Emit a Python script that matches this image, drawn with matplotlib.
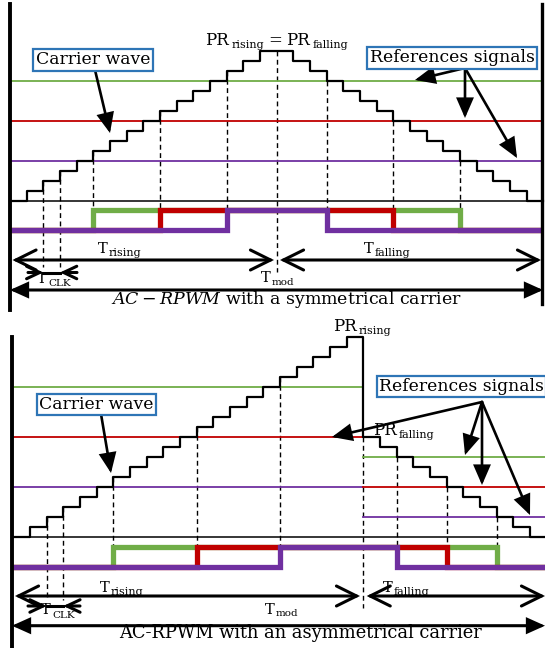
import numpy as np
import matplotlib
matplotlib.use("Agg")
import matplotlib.pyplot as plt
from matplotlib.patches import FancyArrowPatch
from matplotlib.transforms import Affine2D

plt.rcParams["font.family"] = ["DejaVu Serif"]
plt.rcParams["mathtext.fontset"] = "dejavuserif"

GREEN = "#70AD47"
RED = "#C00000"
PURPLE = "#7030A0"
BOX_EDGE = "#2E75B6"

# ---- signal data: carrier level (in clock steps) for every clock period ----
sym_carrier = [0, 1, 2, 3, 4, 5, 6, 7, 8, 9, 10, 11, 12, 13, 14, 15,
               15, 14, 13, 12, 11, 10, 9, 8, 7, 6, 5, 4, 3, 2, 1, 0]
sym_refs = [4, 8, 12]                 # purple, red, green references

asym_carrier = [0, 1, 2, 3, 4, 5, 6, 7, 8, 9, 10, 11, 12, 13, 14, 15,
                16, 17, 18, 19, 20, 10, 9, 8, 7, 6, 5, 4, 3, 2, 1, 0]
asym_refs_rising = [5, 10, 15]        # purple, red, green (rising ramp)
asym_refs_falling = [2, 5, 8]         # purple, red, green (falling ramp)
asym_fall_start = 21                  # first clock period of the falling ramp

clk_periods = [2, 3]                  # clock edges bracketing T_CLK

ref_colors = [PURPLE, RED, GREEN]
pulse_colors = [GREEN, RED, PURPLE]

# ---- layout (pixels) ----
DX, DY = 16.667, 10.0

fig = plt.figure(figsize=(5.45, 6.48), dpi=100)
ax = fig.add_axes([0, 0, 1, 1])
ax.set_xlim(0, 545)
ax.set_ylim(648, 0)
ax.axis("off")
renderer = fig.canvas.get_renderer()


def arrow(p1, p2, style, hl, hw, lw=2.2, ms=10, z=4):
    ax.add_patch(FancyArrowPatch(p1, p2, arrowstyle=f"{style},head_length={hl},head_width={hw}",
                                 mutation_scale=ms, lw=lw, color="black",
                                 shrinkA=0, shrinkB=0, zorder=z, joinstyle="miter"))


def sub_label(x, y, main, sub, fs=10.5, fss=8, ha="center", drop=3.5, gap=1.0):
    """Text with a lowered, smaller subscript; returns the right end."""
    t1 = ax.text(0, y, main, fontsize=fs, ha="left", va="baseline", zorder=6)
    t2 = ax.text(0, y + drop, sub, fontsize=fss, ha="left", va="baseline", zorder=6)
    w1 = t1.get_window_extent(renderer).width
    w2 = t2.get_window_extent(renderer).width
    total = w1 + gap + w2
    left = x - total / 2 if ha == "center" else x
    t1.set_x(left)
    t2.set_x(left + w1 + gap)
    return left + total


def draw_panel(carrier, refs_rise, refs_fall, fall_start, center, g):
    carrier = np.asarray(carrier)
    n = len(carrier)
    car_tf = Affine2D().scale(DX, -DY).translate(g["x0"], g["y0"]) + ax.transData
    pul_tf = (Affine2D().scale(DX, g["p_high"] - g["p_low"])
              .translate(g["x0"], g["p_low"]) + ax.transData)

    def px(i):
        return g["x0"] + i * DX

    def py(level):
        return g["y0"] - level * DY

    # zero line
    ax.plot([g["fl"], g["fr"]], [g["y0"], g["y0"]], color="black", lw=1.1, zorder=2)

    # reference lines
    x_split = px(fall_start) if fall_start is not None else g["fr"]
    for r in range(3):
        ax.plot([g["fl"], x_split], [py(refs_rise[r])] * 2, color=ref_colors[r], lw=1.3, zorder=2)
        if fall_start is not None:
            ax.plot([x_split, g["fr"]], [py(refs_fall[r])] * 2, color=ref_colors[r], lw=1.3, zorder=2)

    # staircase carrier
    xs = np.arange(n + 1)
    ys = np.append(carrier, carrier[-1])
    ax.step(xs, ys, where="post", color="black", lw=1.6, transform=car_tf, zorder=3)

    # comparison pulses (lowest reference first)
    ref_per_period = np.empty((3, n))
    for r in range(3):
        ref_per_period[r] = refs_rise[r]
        if fall_start is not None:
            ref_per_period[r, fall_start:] = refs_fall[r]
    edges = []
    for r in range(3):
        high = (carrier > ref_per_period[r]).astype(float)
        ax.step(xs, np.append(high, high[-1]), where="post", color=pulse_colors[r],
                lw=3.8, transform=pul_tf, zorder=4 + r * 0.1,
                solid_joinstyle="miter", solid_capstyle="butt")
        change = np.nonzero(np.diff(high))[0] + 1
        edges.extend(change.tolist())

    dash = dict(color="black", lw=1.0, ls=(0, (3.5, 2.5)), zorder=1)
    for i in edges:
        ax.plot([px(i), px(i)], [py(carrier[i]), g["p_high"]], **dash)
    for i in clk_periods:
        ax.plot([px(i), px(i)], [py(carrier[i]), g["clk_y"] - 6], **dash)
    ax.plot([px(center), px(center)], [py(carrier[center]), g["dim_y"] + 12], **dash)
    return px


def box(x, y, s, ha="center"):
    ax.text(x, y, s, ha=ha, va="center", fontsize=12.4, zorder=6,
            bbox=dict(boxstyle="square,pad=0.14", fc="white", ec=BOX_EDGE, lw=1.6))


# ================= symmetrical carrier =================
top = dict(x0=10, y0=200.7, fl=10, fr=541.5, p_low=230, p_high=209.5, dim_y=260, clk_y=272.5)
px_t = draw_panel(sym_carrier, sym_refs, None, None, len(sym_carrier) // 2, top)

ax.plot([10, 10], [4, 310], color="black", lw=2.8, zorder=5)
ax.plot([541.5, 541.5], [4, 304], color="black", lw=2.4, zorder=5)

sub_label(205, 45, "PR", "rising", fs=12, fss=8, ha="left", drop=3, gap=3)
ax.text(275, 45, "=", fontsize=12, ha="center", va="baseline")
sub_label(286, 45, "PR", "falling", fs=12, fss=8, ha="left", drop=3, gap=3)
box(93, 60, "Carrier wave")
box(452, 58, "References signals")
arrow((95, 70), (110, 133), "-|>", 1.15, 0.5, lw=1.9)
for tip in [(415, 80), (465, 118), (517, 158)]:
    arrow((465, 68), tip, "-|>", 1.15, 0.5, lw=1.9)

arrow((12.5, 260), (274, 260), "<->", 1.45, 0.72)
arrow((280, 260), (541, 260), "<->", 1.45, 0.72)
arrow((28, 272.5), (px_t(clk_periods[0]), 272.5), "->", 0.95, 0.45)
arrow((77, 272.5), (px_t(clk_periods[1]), 272.5), "->", 0.95, 0.45)
ax.plot([px_t(clk_periods[0]), px_t(clk_periods[1])], [272.5, 272.5], color="black", lw=2.2)
arrow((10, 290), (543, 290), "<|-|>", 1.0, 0.45)

sub_label(120, 253, "T", "rising")
sub_label(387, 253, "T", "falling")
sub_label(54, 283, "T", "CLK", fss=7.5, drop=3)
sub_label(278, 282.5, "T", "mod", fss=7.5, drop=2.5)
ax.text(287, 303.5, r"$AC-RPWM$ with a symmetrical carrier", ha="center", va="baseline",
        fontsize=12.5)

# ================= asymmetrical carrier =================
bot = dict(x0=13.3, y0=536.7, fl=12, fr=545, p_low=567, p_high=546.5, dim_y=596, clk_y=606)
px_b = draw_panel(asym_carrier, asym_refs_rising, asym_refs_falling, asym_fall_start,
                  asym_fall_start, bot)

ax.plot([12, 12], [337, 648], color="black", lw=2.8, zorder=5)

sub_label(333, 331, "PR", "rising", fs=12, fss=8, ha="left", drop=3, gap=2)
sub_label(373, 435, "PR", "falling", fs=12, fss=8, ha="left", drop=3, gap=2)
box(96.5, 404.5, "Carrier wave")
box(379, 386.5, "References signals", ha="left")
arrow((101, 414), (111, 473), "-|>", 1.15, 0.5, lw=1.9)
for tip in [(332, 437), (465, 455), (482, 485), (530, 515)]:
    arrow((482, 402), tip, "-|>", 1.15, 0.5, lw=1.9)

arrow((15, 596), (360, 596), "<->", 1.45, 0.72)
arrow((366.7, 596), (545, 596), "<->", 1.45, 0.72)
arrow((28, 606), (px_b(clk_periods[0]), 606), "->", 0.95, 0.45)
arrow((80, 606), (px_b(clk_periods[1]), 606), "->", 0.95, 0.45)
ax.plot([px_b(clk_periods[0]), px_b(clk_periods[1])], [606, 606], color="black", lw=2.2)
arrow((12, 625.7), (545, 625.7), "<|-|>", 1.0, 0.45)

sub_label(122, 591.5, "T", "rising")
sub_label(406, 591.5, "T", "falling")
sub_label(58, 614.5, "T", "CLK", fss=7.5, drop=3)
sub_label(282, 614, "T", "mod", fss=7.5, drop=2.5)
ax.text(300, 638.5, "AC-RPWM with an asymmetrical carrier", ha="center", va="baseline",
        fontsize=12.9)

fig.savefig("out.png", dpi=100)
